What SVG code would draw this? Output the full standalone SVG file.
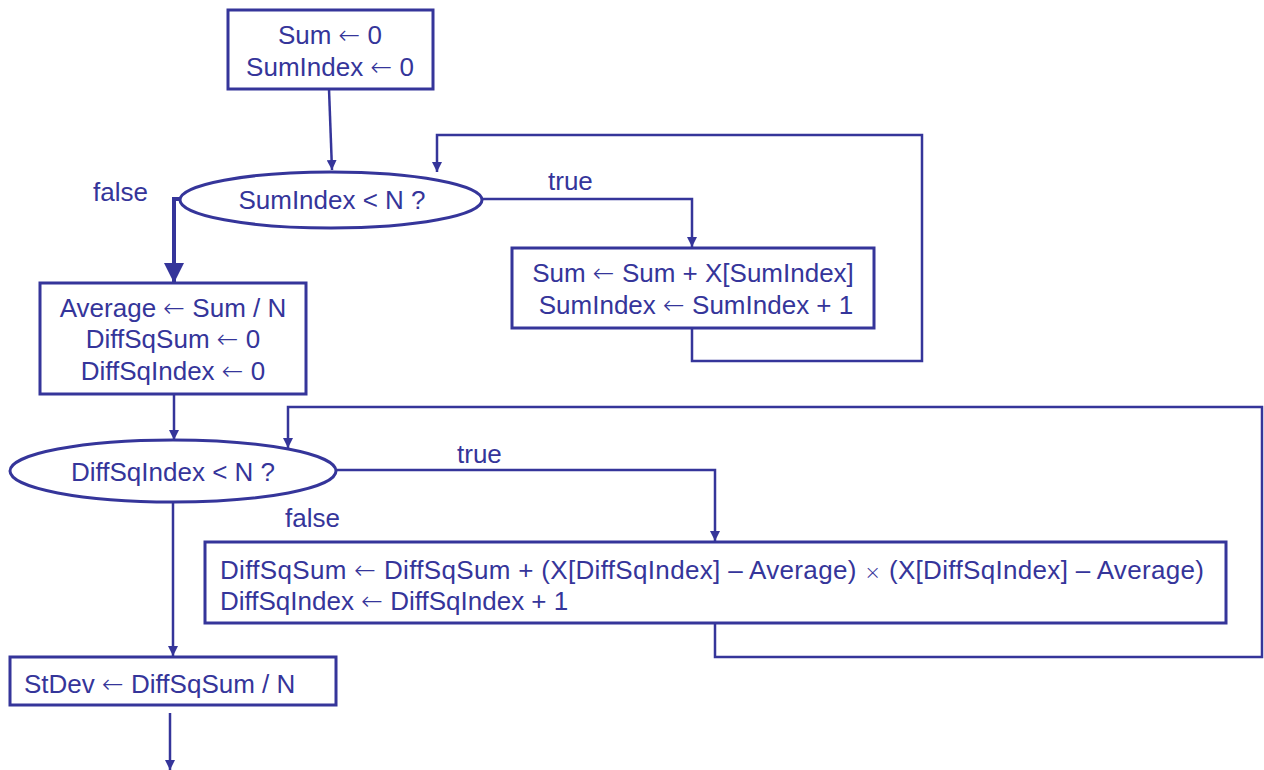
<svg xmlns="http://www.w3.org/2000/svg" width="1264" height="770" viewBox="0 0 1264 770">
<defs>
<marker id="ah" viewBox="0 0 10 10" refX="10" refY="5" markerWidth="10" markerHeight="10" markerUnits="userSpaceOnUse" orient="auto">
<path d="M0,0 L10,5 L0,10 Z" fill="#35359a"/>
</marker>
<marker id="ahb" viewBox="0 0 10 10" refX="10" refY="5" markerWidth="22" markerHeight="20" markerUnits="userSpaceOnUse" orient="auto">
<path d="M0,0 L10,5 L0,10 Z" fill="#35359a"/>
</marker>
</defs>
<style>
.n{fill:#fff;stroke:#35359a;stroke-width:3}
.t{font-family:"Liberation Sans",Arial,sans-serif;font-size:26px;fill:#35359a}
.a{font-family:"DejaVu Sans",sans-serif;font-weight:200}
.x{font-family:"DejaVu Sans",sans-serif;font-weight:200;font-size:20px}
.c{text-anchor:middle}
.e{fill:none;stroke:#35359a;stroke-width:2.5}
.ea{marker-end:url(#ah)}
</style>
<rect width="1264" height="770" fill="#fff"/>
<g id="connectors">
<path class="e ea" d="M329,89 L332,170"/>
<path class="e ea" d="M482,199 L692,199 L692,247"/>
<path class="e ea" d="M692,328 L692,361 L922,361 L922,135 L437,135 L437,172"/>
<path class="e" style="stroke-width:4;marker-end:url(#ahb)" d="M180,199 L174,199 L174,283"/>
<path class="e ea" d="M174,394 L174,440"/>
<path class="e ea" d="M336,470 L715,470 L715,541"/>
<path class="e ea" d="M715,623 L715,657 L1262,657 L1262,407 L288,407 L288,448"/>
<path class="e ea" d="M173,503 L173,656"/>
<path class="e ea" d="M170,713 L170,770"/>
<text class="t" x="548" y="190">true</text>
<text class="t" x="93" y="201">false</text>
<text class="t" x="457" y="463">true</text>
<text class="t" x="285" y="527">false</text>
</g>
<g id="init">
<rect class="n" x="228" y="10" width="205" height="79"/>
<text class="t c" x="330" y="44">Sum <tspan class="a">←</tspan> 0</text>
<text class="t c" x="330" y="76">SumIndex <tspan class="a">←</tspan> 0</text>
</g>
<g id="cond1">
<ellipse class="n" cx="331" cy="200" rx="151" ry="28"/>
<text class="t c" x="332" y="209">SumIndex &lt; N ?</text>
</g>
<g id="sumstep">
<rect class="n" x="512" y="248" width="362" height="80"/>
<text class="t c" x="693" y="282">Sum <tspan class="a">←</tspan> Sum + X[SumIndex]</text>
<text class="t c" x="696" y="314">SumIndex <tspan class="a">←</tspan> SumIndex + 1</text>
</g>
<g id="avg">
<rect class="n" x="40" y="283" width="266" height="111"/>
<text class="t c" x="173" y="317">Average <tspan class="a">←</tspan> Sum / N</text>
<text class="t c" x="173" y="348">DiffSqSum <tspan class="a">←</tspan> 0</text>
<text class="t c" x="173" y="380">DiffSqIndex <tspan class="a">←</tspan> 0</text>
</g>
<g id="cond2">
<ellipse class="n" cx="173" cy="471" rx="163" ry="31"/>
<text class="t c" x="173" y="481">DiffSqIndex &lt; N ?</text>
</g>
<g id="diffstep">
<rect class="n" x="205" y="542" width="1021" height="81"/>
<text class="t" x="220" y="579" textLength="984" lengthAdjust="spacing">DiffSqSum <tspan class="a">←</tspan> DiffSqSum + (X[DiffSqIndex] – Average) <tspan class="x">×</tspan> (X[DiffSqIndex] – Average)</text>
<text class="t" x="220" y="610">DiffSqIndex <tspan class="a">←</tspan> DiffSqIndex + 1</text>
</g>
<g id="stdev">
<rect class="n" x="10" y="657" width="326" height="48"/>
<text class="t" x="24" y="693">StDev <tspan class="a">←</tspan> DiffSqSum / N</text>
</g>
</svg>
